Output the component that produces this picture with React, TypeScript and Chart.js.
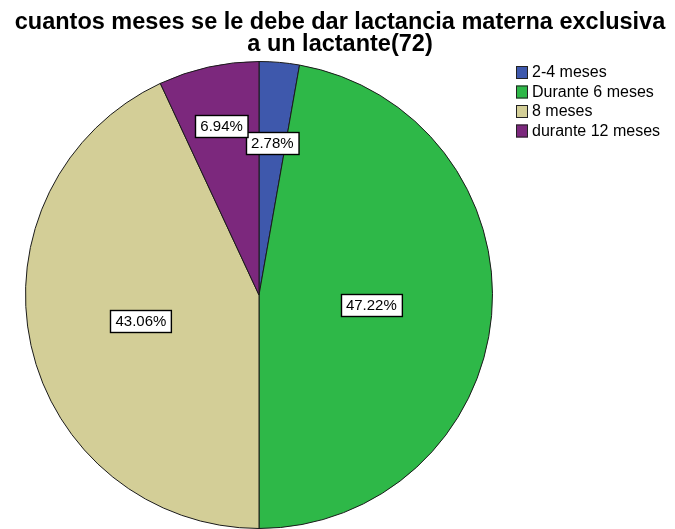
import React, { useEffect, useRef } from "react";
import { Chart, registerables } from "chart.js";

Chart.register(...registerables);

const titleLines = ["cuantos meses se le debe dar lactancia materna exclusiva", "a un lactante(72)"];
const categories = ["2-4 meses", "Durante 6 meses", "8 meses", "durante 12 meses"];
const counts = [2, 34, 31, 5];
const percentLabels = ["2.78%", "47.22%", "43.06%", "6.94%"];
const colors = ["#3E58AC", "#2EB848", "#D3CE97", "#7C287D"];
const labelRadiusFrac = [0.655, 0.483, 0.518, 0.74];

const FONT = "'Liberation Sans', Arial, sans-serif";

const overlayPlugin = {
  id: "overlay",
  afterDraw(chart: any) {
    const ctx = chart.ctx as CanvasRenderingContext2D;
    ctx.save();
    // Title
    ctx.fillStyle = "#000";
    ctx.textAlign = "center";
    ctx.textBaseline = "alphabetic";
    ctx.font = `bold 23.5px ${FONT}`;
    ctx.fillText(titleLines[0], 340, 29);
    ctx.fillText(titleLines[1], 340, 51);

    // Legend
    ctx.textAlign = "left";
    ctx.textBaseline = "middle";
    ctx.font = `16px ${FONT}`;
    categories.forEach((c, i) => {
      const top = 66 + i * 19.5;
      ctx.fillStyle = colors[i];
      ctx.fillRect(516, top, 12, 13);
      ctx.strokeStyle = "#222";
      ctx.lineWidth = 1;
      ctx.strokeRect(516.5, top + 0.5, 11, 12);
      ctx.fillStyle = "#000";
      ctx.fillText(c, 532, top + 7);
    });

    // Value labels
    const meta = chart.getDatasetMeta(0);
    ctx.font = `15px ${FONT}`;
    ctx.textAlign = "center";
    meta.data.forEach((arc: any, i: number) => {
      const p = arc.getProps(["x", "y", "startAngle", "endAngle", "outerRadius"], true);
      const mid = (p.startAngle + p.endAngle) / 2;
      const r = p.outerRadius * labelRadiusFrac[i];
      const cx = p.x + Math.cos(mid) * r;
      const cy = p.y + Math.sin(mid) * r;
      const text = percentLabels[i];
      const w = ctx.measureText(text).width + 10;
      const h = 22;
      const bx = Math.round(cx - w / 2) + 0.5;
      const by = Math.round(cy - h / 2) + 0.5;
      ctx.fillStyle = "#fff";
      ctx.fillRect(bx, by, w, h);
      ctx.strokeStyle = "#000";
      ctx.lineWidth = 1.4;
      ctx.strokeRect(bx, by, w, h);
      ctx.fillStyle = "#000";
      ctx.fillText(text, cx, cy + 1);
    });
    ctx.restore();
  },
};

export default function App() {
  const ref = useRef<HTMLCanvasElement>(null);
  useEffect(() => {
    if (!ref.current) return;
    const chart = new Chart(ref.current, {
      type: "pie",
      data: {
        labels: categories,
        datasets: [
          {
            data: counts,
            backgroundColor: colors,
            borderColor: "#1a1a1a",
            borderWidth: 1,
          },
        ],
      },
      options: {
        responsive: false,
        animation: false,
        layout: { padding: { left: 25, top: 61, right: 182, bottom: 0 } },
        plugins: {
          legend: { display: false },
          tooltip: { enabled: false },
          title: { display: false },
        },
      },
      plugins: [overlayPlugin],
    });
    return () => chart.destroy();
  }, []);
  return (
    <div style={{ position: "fixed", left: 0, top: 0, width: 675, height: 529, background: "#fff" }}>
      <canvas ref={ref} width={675} height={529} style={{ width: 675, height: 529, display: "block" }} />
    </div>
  );
}
